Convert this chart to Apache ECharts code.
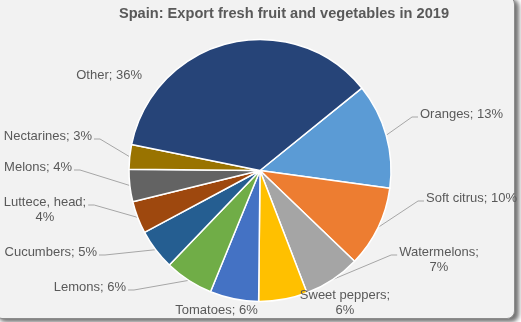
<!DOCTYPE html>
<html>
<head>
<meta charset="utf-8">
<script src="https://cdn.jsdelivr.net/npm/echarts@6/dist/echarts.min.js"></script>
<style>
  html, body { margin: 0; padding: 0; background: #ffffff; overflow: hidden; }
  #panel {
    position: absolute; left: -6px; top: -4px; width: 519px; height: 321px;
    background: #f2f2f2; border: 1px solid #8c8c8c; border-radius: 8px;
    box-shadow: 4px 3px 4px rgba(0, 0, 0, 0.55);
  }
  #chart { position: absolute; left: 0; top: 0; width: 521px; height: 322px; }
</style>
</head>
<body>
<div id="panel"></div>
<div id="chart"></div>
<script>
// Export shares (%) per product, in clockwise drawing order
const categories = ['Oranges', 'Soft citrus', 'Watermelons', 'Sweet peppers', 'Tomatoes',
  'Lemons', 'Cucumbers', 'Luttece, head', 'Melons', 'Nectarines', 'Other'];
const shares = [13, 10, 7, 6, 6, 6, 5, 4, 4, 3, 36];
const sliceColors = ['#5B9BD5', '#ED7D31', '#A5A5A5', '#FFC000', '#4472C4',
  '#70AD47', '#255E91', '#9E480E', '#636363', '#997300', '#264478'];

// Label placement: anchor point, alignment, wrapping and whether a leader line is drawn
const labelSpots = [
  { x: 420, y: 114, align: 'left', wrap: false, leader: true },
  { x: 426, y: 198, align: 'left', wrap: false, leader: true },
  { x: 439, y: 259.5, align: 'center', wrap: true, leader: true },
  { x: 345, y: 303, align: 'center', wrap: true, leader: false },
  { x: 216.5, y: 310, align: 'center', wrap: false, leader: false },
  { x: 126, y: 287, align: 'right', wrap: false, leader: true },
  { x: 97, y: 252, align: 'right', wrap: false, leader: true },
  { x: 45, y: 209.5, align: 'center', wrap: true, leader: true },
  { x: 72, y: 167, align: 'right', wrap: false, leader: true },
  { x: 92, y: 136, align: 'right', wrap: false, leader: true },
  { x: 142, y: 75, align: 'right', wrap: false, leader: false }
];

const CX = 260, CY = 170.5, LINE_H = 15;

const chart = echarts.init(document.getElementById('chart'), null, { renderer: 'canvas' });

const data = categories.map((name, i) => ({
  name: name,
  value: shares[i],
  itemStyle: { color: sliceColors[i] },
  labelLine: { show: labelSpots[i].leader }
}));

chart.setOption({
  backgroundColor: 'transparent',
  animation: false,
  title: {
    text: 'Spain: Export fresh fruit and vegetables in 2019',
    left: 279, top: 1, textAlign: 'center',
    textStyle: { fontFamily: 'Liberation Sans, Arial, sans-serif', fontSize: 14.6, fontWeight: 'bold', color: '#595959' }
  },
  series: [{
    type: 'pie',
    center: [CX, CY],
    radius: 131,
    startAngle: 39,
    clockwise: true,
    avoidLabelOverlap: false,
    itemStyle: { borderColor: '#ffffff', borderWidth: 1.5 },
    label: {
      show: true,
      position: 'outside',
      fontFamily: 'Liberation Sans, Arial, sans-serif',
      fontSize: 13,
      lineHeight: LINE_H,
      color: '#595959',
      formatter: p => p.name + ';' + (labelSpots[p.dataIndex].wrap ? '\n' : ' ') + p.value + '%'
    },
    labelLine: {
      show: true,
      length: 10,
      length2: 10,
      lineStyle: { color: '#a6a6a6', width: 1 }
    },
    labelLayout: function (p) {
      const s = labelSpots[p.dataIndex];
      const w = p.labelRect.width, h = p.labelRect.height;
      let left = s.x;
      if (s.align === 'right') left = s.x - w;
      else if (s.align === 'center') left = s.x - w / 2;
      const top = s.y - h / 2;
      const ly = top + LINE_H / 2 + 3;
      const edge = p.labelLinePoints ? p.labelLinePoints[0] : [CX, CY];
      let end, bend;
      if (s.x > CX) {
        end = [left - 2, ly];
        bend = [left - 8, ly];
      } else {
        end = [left + w + 2, ly];
        bend = [left + w + 8, ly];
      }
      return {
        x: s.x, y: s.y, align: s.align, verticalAlign: 'middle',
        labelLinePoints: [edge, bend, end]
      };
    },
    data: data
  }]
});
</script>
</body>
</html>
